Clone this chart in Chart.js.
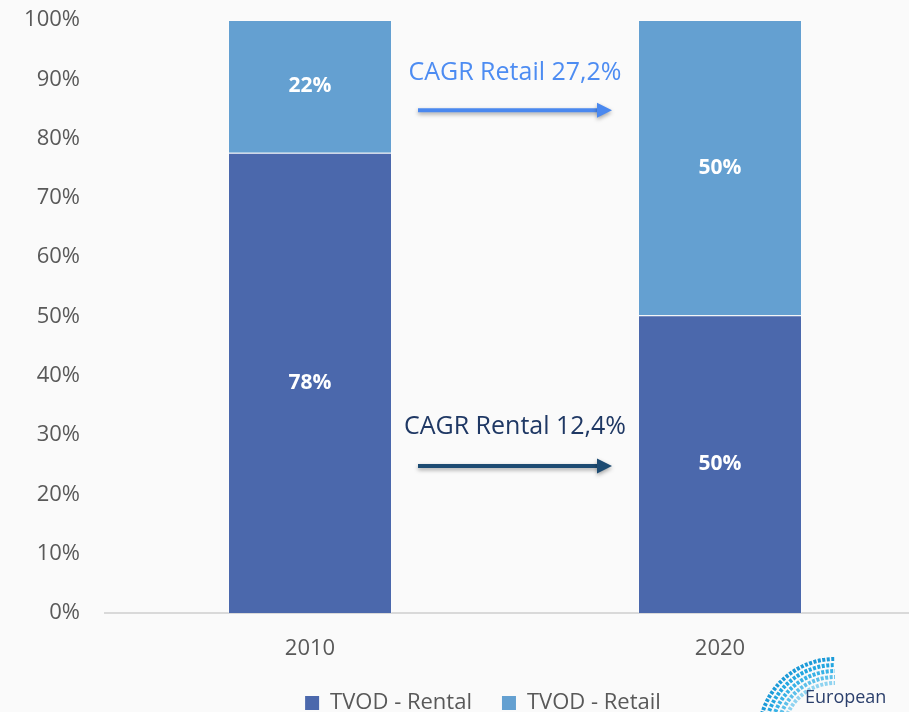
<!DOCTYPE html>
<html><head><meta charset="utf-8">
<script src="https://cdn.jsdelivr.net/npm/chart.js@4"></script>
<style>
html,body{margin:0;padding:0;background:#fafafa;overflow:hidden;width:909px;height:712px}
#wrap{position:relative;width:925px;height:712px;background:#fafafa}
canvas{display:block}
</style></head><body>
<div id="wrap"><canvas id="c" width="925" height="712"></canvas></div>
<script>
const categories = ['2010', '2020'];
const seriesNames = ['TVOD - Rental', 'TVOD - Retail'];
const rentalShare = [77.6, 50.2];
const retailShare = [22.4, 49.8];
const cagrLabels = ['CAGR Retail 27,2%', 'CAGR Rental 12,4%'];
const logoText = 'European';

Chart.defaults.font.family = "'Open Sans', 'Noto Sans', sans-serif";

const dataLabelPlugin = {
  id: 'dataLabels',
  afterDatasetsDraw(chart) {
    const ctx = chart.ctx;
    ctx.save();
    ctx.font = "bold 21px 'Open Sans', sans-serif";
    ctx.fillStyle = '#ffffff';
    ctx.textAlign = 'center';
    ctx.textBaseline = 'middle';
    chart.data.datasets.forEach((ds, di) => {
      const meta = chart.getDatasetMeta(di);
      meta.data.forEach((bar, i) => {
        const v = ds.data[i];
        const y = (bar.y + bar.base) / 2;
        ctx.fillText(Math.round(v) + '%', bar.x, y);
      });
    });
    ctx.restore();
  }
};

const legendShift = {
  id: 'legendShift',
  afterLayout(chart) {
    const lg = chart.legend;
    if (lg) { lg.left += 20.5; lg.right += 20.5; }
  }
};

function drawArrow(ctx, x1, x2, y, color) {
  ctx.save();
  ctx.shadowColor = 'rgba(0,0,0,0.35)';
  ctx.shadowBlur = 4;
  ctx.shadowOffsetY = 2;
  ctx.strokeStyle = color;
  ctx.fillStyle = color;
  ctx.lineWidth = 4;
  ctx.beginPath();
  ctx.moveTo(x1, y);
  ctx.lineTo(x2 - 12, y);
  ctx.stroke();
  ctx.beginPath();
  ctx.moveTo(x2, y);
  ctx.lineTo(x2 - 15, y - 7.5);
  ctx.lineTo(x2 - 15, y + 7.5);
  ctx.closePath();
  ctx.fill();
  ctx.restore();
}

const annotationPlugin = {
  id: 'cagr',
  afterDraw(chart) {
    const ctx = chart.ctx;
    const xs = chart.scales.x, ys = chart.scales.y;
    const m0 = chart.getDatasetMeta(0);
    const leftEdge = m0.data[0].x + m0.data[0].width / 2;
    const rightEdge = m0.data[1].x - m0.data[1].width / 2;
    const cx = (xs.getPixelForValue(0) + xs.getPixelForValue(1)) / 2;
    const x1 = leftEdge + 26, x2 = rightEdge - 26;
    ctx.save();
    ctx.font = "25px 'Open Sans', sans-serif";
    ctx.textAlign = 'center';
    ctx.textBaseline = 'middle';
    ctx.fillStyle = '#4d8cf2';
    ctx.fillText(cagrLabels[0], cx, ys.getPixelForValue(91.0));
    ctx.fillStyle = '#1f3864';
    ctx.fillText(cagrLabels[1], cx, ys.getPixelForValue(31.4));
    ctx.restore();
    drawArrow(ctx, x1, x2, ys.getPixelForValue(84.8), '#4a88ef');
    drawArrow(ctx, x1, x2, ys.getPixelForValue(24.8), '#1d4b72');

    // logo
    ctx.save();
    const lcx = 835, lcy = 735;
    const cols = ['#8fd3f0', '#5cc0ea', '#38b2e6', '#23a6e0', '#1b9ad8'];
    for (let k = 0; k < 5; k++) {
      const r = 52 + k * 6;
      ctx.beginPath();
      ctx.arc(lcx, lcy, r, Math.PI * 1.05, Math.PI * 1.5);
      ctx.strokeStyle = cols[k];
      ctx.lineWidth = 4;
      ctx.setLineDash([3, 1.5]);
      ctx.stroke();
    }
    ctx.setLineDash([]);
    ctx.font = "18px 'Open Sans', sans-serif";
    ctx.fillStyle = '#2b3f6c';
    ctx.textAlign = 'left';
    ctx.textBaseline = 'middle';
    ctx.fillText(logoText, 805, 698);
    ctx.restore();
  }
};

new Chart(document.getElementById('c'), {
  type: 'bar',
  data: {
    labels: categories,
    datasets: [
      { label: seriesNames[0], data: rentalShare, backgroundColor: '#4b68ac', borderColor: 'rgba(255,255,255,0.3)', borderWidth: 1 },
      { label: seriesNames[1], data: retailShare, backgroundColor: '#64a0d1', borderColor: 'rgba(255,255,255,0.3)', borderWidth: 1 }
    ]
  },
  options: {
    responsive: false,
    animation: false,
    devicePixelRatio: 1,
    layout: { padding: { top: 20, left: 0, right: 0, bottom: -12 } },
    datasets: { bar: { categoryPercentage: 1, barPercentage: 0.4 } },
    scales: {
      x: {
        stacked: true,
        grid: { display: false, drawTicks: false },
        border: { display: true, color: '#d9d9d9', width: 2 },
        ticks: { color: '#595959', font: { size: 22 }, padding: 23 },
        afterFit(s) { s.height = 49; }
      },
      y: {
        stacked: true,
        min: 0, max: 100,
        grid: { display: false, drawTicks: false },
        border: { display: false },
        ticks: { stepSize: 10, color: '#595959', font: { size: 22 }, padding: 25, callback: v => v + '%' },
        afterFit(s) { s.width = 105; s.paddingTop = 2; s.paddingBottom = 2; }
      }
    },
    plugins: {
      tooltip: { enabled: false },
      legend: {
        position: 'bottom',
        labels: {
          color: '#595959',
          font: { size: 22 },
          boxWidth: 14,
          boxHeight: 14,
          padding: 30,
          generateLabels(chart) {
            return Chart.defaults.plugins.legend.labels.generateLabels(chart).map(l => Object.assign(l, { lineWidth: 0, strokeStyle: 'rgba(0,0,0,0)' }));
          }
        }
      }
    }
  },
  plugins: [dataLabelPlugin, legendShift, annotationPlugin]
});
</script>
</body></html>
